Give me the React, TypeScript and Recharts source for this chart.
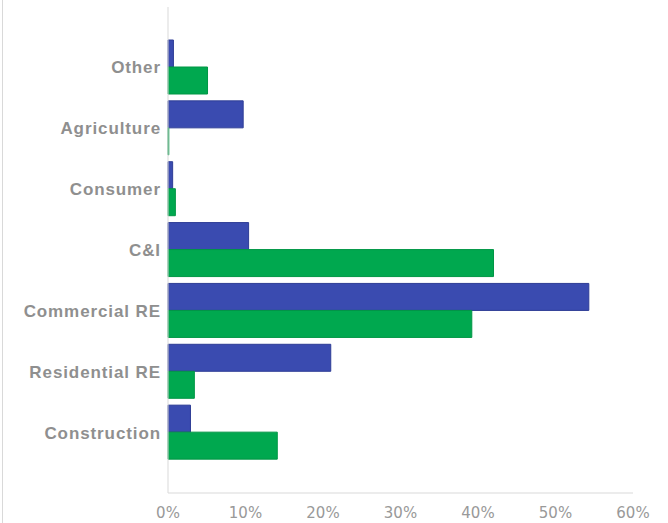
import { Bar, BarChart, XAxis, YAxis } from "recharts";

const BLUE = "#3a4bb0";
const GREEN = "#00a84f";

const categories = [
  "Other",
  "Agriculture",
  "Consumer",
  "C&I",
  "Commercial RE",
  "Residential RE",
  "Construction",
];
const blueValues = [0.7, 9.7, 0.6, 10.4, 54.3, 21.0, 2.9];
const greenValues = [5.1, 0.1, 0.95, 42.0, 39.2, 3.4, 14.1];
const xTicks = [0, 10, 20, 30, 40, 50, 60];

type Row = { name: string; blue: number; green: number };

const data: Row[] = categories.map((name, i) => ({
  name,
  blue: blueValues[i],
  green: greenValues[i],
}));

export default function App() {
  return (
    <div
      style={{
        position: "fixed",
        left: 0,
        top: 0,
        width: 668,
        height: 523,
        background: "#fff",
      }}
    >
      <div
        style={{
          position: "absolute",
          left: 2,
          top: 0,
          width: 1,
          height: 523,
          background: "#d9d9d9",
        }}
      />
      <BarChart
        width={668}
        height={523}
        data={data}
        layout="vertical"
        margin={{ top: 7, right: 35, left: 0, bottom: 0 }}
        barGap={0}
        barCategoryGap={3}
      >
        <XAxis
          type="number"
          domain={[0, 60]}
          ticks={xTicks}
          tickFormatter={(v) => `${v}%`}
          height={30}
          axisLine={{ stroke: "#d9d9d9" }}
          tickLine={false}
          tickMargin={8}
          interval={0}
          tick={{
            fontSize: 15,
            fill: "#999999",
            fontFamily: "DejaVu Sans",
          }}
        />
        <YAxis
          type="category"
          dataKey="name"
          width={168}
          padding={{ top: 30, bottom: 30 }}
          axisLine={{ stroke: "#d9d9d9" }}
          tickLine={false}
          tickSize={0}
          tickMargin={7}
          interval={0}
          tick={{
            fontSize: 17,
            fontWeight: "bold",
            fill: "#8f8f8f",
            fontFamily: "Liberation Sans",
            letterSpacing: 0.9,
          }}
        />
        <Bar
          dataKey="blue"
          fill={BLUE}
          stroke="#2e3d96"
          strokeWidth={1}
          isAnimationActive={false}
        />
        <Bar
          dataKey="green"
          fill={GREEN}
          stroke="#009645"
          strokeWidth={1}
          isAnimationActive={false}
        />
      </BarChart>
    </div>
  );
}
